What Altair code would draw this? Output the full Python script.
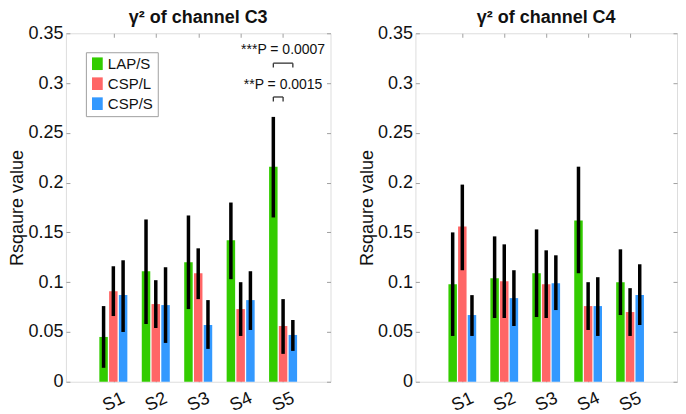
import json
import altair as alt
import pandas as pd

groups = ["S1", "S2", "S3", "S4", "S5"]
methods = ["LAP/S", "CSP/L", "CSP/S"]
colors = ["#33cc00", "#ff6666", "#3399ff"]
y_ticks = [0, 0.05, 0.1, 0.15, 0.2, 0.25, 0.3, 0.35]

# channel C3
c3_mean = {"LAP/S": [0.045, 0.111, 0.120, 0.142, 0.216],
           "CSP/L": [0.091, 0.078, 0.109, 0.073, 0.056],
           "CSP/S": [0.087, 0.077, 0.057, 0.082, 0.047]}
c3_lo = {"LAP/S": [0.014, 0.058, 0.073, 0.103, 0.165],
         "CSP/L": [0.066, 0.054, 0.083, 0.046, 0.028],
         "CSP/S": [0.050, 0.039, 0.033, 0.052, 0.031]}
c3_hi = {"LAP/S": [0.076, 0.163, 0.167, 0.180, 0.266],
         "CSP/L": [0.116, 0.102, 0.134, 0.100, 0.083],
         "CSP/S": [0.122, 0.115, 0.082, 0.111, 0.062]}

# channel C4
c4_mean = {"LAP/S": [0.098, 0.104, 0.109, 0.162, 0.100],
           "CSP/L": [0.156, 0.101, 0.098, 0.076, 0.070],
           "CSP/S": [0.067, 0.084, 0.099, 0.076, 0.087]}
c4_lo = {"LAP/S": [0.046, 0.064, 0.065, 0.109, 0.067],
         "CSP/L": [0.112, 0.064, 0.064, 0.052, 0.046],
         "CSP/S": [0.046, 0.056, 0.072, 0.046, 0.057]}
c4_hi = {"LAP/S": [0.150, 0.146, 0.153, 0.216, 0.133],
         "CSP/L": [0.198, 0.138, 0.132, 0.100, 0.094],
         "CSP/S": [0.087, 0.112, 0.127, 0.105, 0.118]}

# significance annotations (channel C3)
sig_group = [5, 5]
sig_from = [0, 0]
sig_to = [2, 1]
sig_level = [0.320, 0.286]
sig_text_level = [0.333, 0.298]
sig_labels = ["***P = 0.0007", "**P = 0.0015"]

FONT = "Liberation Sans"
BOX = "#a0a0a0"
OFF = 0.23
TICK = 4


def build_df(means, los, his):
    rows = []
    for mi, m in enumerate(methods):
        for gi, g in enumerate(groups):
            rows.append({"g": gi + 1, "m": mi, "method": m, "group": g,
                         "mean": means[m][gi], "lo": los[m][gi], "hi": his[m][gi]})
    return pd.DataFrame(rows)


def panel(means, los, his, title, width, show_legend, annotate):
    df = build_df(means, los, his)
    base = alt.Chart(df).transform_calculate(pos=f"datum.g + (datum.m - 1) * {OFF}")
    xs = alt.Scale(domain=[0, 6], nice=False, zero=False)
    ys = alt.Scale(domain=[0, 0.35], nice=False)
    vals = list(range(1, len(groups) + 1))
    lab = f"{json.dumps(groups)}[datum.value - 1]"

    legend = None
    if show_legend:
        legend = alt.Legend(orient="none", legendX=20, legendY=19, title=None,
                            symbolType="M-0.85,-1H0.85V1H-0.85Z", symbolSize=160,
                            symbolStrokeWidth=0, symbolOpacity=1,
                            labelFont=FONT, labelFontSize=15, labelColor="#111",
                            strokeColor=BOX, fillColor="white", padding=4,
                            rowPadding=4, labelOffset=3)

    bars = base.mark_bar(size=8.5, opacity=1).encode(
        x=alt.X("pos:Q", scale=xs, axis=alt.Axis(
            orient="bottom", values=vals, labelExpr=lab, ticks=False, domain=False,
            grid=False, title=None, labelAngle=-25, labelAlign="center",
            labelBaseline="middle", labelPadding=20, labelFont=FONT,
            labelFontSize=18, labelColor="#111")),
        y=alt.Y("mean:Q", scale=ys, axis=alt.Axis(
            orient="left", values=y_ticks, format="~g",
            ticks=False, domain=False, grid=False, title="Rsqaure value",
            titleFont=FONT, titleFontSize=18, titleFontWeight="normal",
            titleColor="#111", titlePadding=1, labelFont=FONT, labelFontSize=18,
            labelColor="#111", labelPadding=3)),
        color=alt.Color("method:N", scale=alt.Scale(domain=methods, range=colors),
                        legend=legend),
    )

    err = base.mark_rule(strokeWidth=3.5, color="black").encode(
        x=alt.X("pos:Q", scale=xs, axis=alt.Axis(
            orient="top", values=vals, labels=False, domain=False, grid=False,
            title=None, tickSize=TICK, offset=-TICK, tickColor=BOX)),
        y=alt.Y("lo:Q", scale=ys, axis=alt.Axis(
            orient="right", values=y_ticks, labels=False,
            domain=False, grid=False, title=None, tickSize=TICK, offset=-TICK,
            tickColor=BOX)),
        y2="hi:Q",
    )

    ticks = base.mark_point(opacity=0).encode(
        x=alt.X("pos:Q", scale=xs, axis=alt.Axis(
            orient="bottom", values=vals, labels=False, domain=False, grid=False,
            title=None, tickSize=TICK, offset=-TICK, tickColor=BOX)),
        y=alt.Y("mean:Q", scale=ys, axis=alt.Axis(
            orient="left", values=y_ticks, labels=False,
            domain=False, grid=False, title=None, tickSize=TICK, offset=-TICK,
            tickColor=BOX)),
    )

    layers = [bars, err, ticks]

    if annotate:
        ann = pd.DataFrame({"g": sig_group, "a": sig_from, "b": sig_to,
                            "y": sig_level, "ty": sig_text_level, "label": sig_labels})
        abase = alt.Chart(ann).transform_calculate(
            xa=f"datum.g + (datum.a - 1) * {OFF}",
            xb=f"datum.g + (datum.b - 1) * {OFF}",
            yd="datum.y - 0.0045")
        hline = abase.mark_rule(color="#333", strokeWidth=1.3).encode(
            x=alt.X("xa:Q", scale=xs, axis=None), x2="xb:Q",
            y=alt.Y("y:Q", scale=ys, axis=None))
        ends = abase.transform_fold(["xa", "xb"], as_=["k", "xe"]).mark_rule(
            color="#333", strokeWidth=1.3).encode(
            x=alt.X("xe:Q", scale=xs, axis=None),
            y=alt.Y("y:Q", scale=ys, axis=None), y2="yd:Q")
        txt = abase.mark_text(font=FONT, fontSize=14, color="#111",
                              baseline="middle").encode(
            x=alt.X("g:Q", scale=xs, axis=None),
            y=alt.Y("ty:Q", scale=ys, axis=None), text="label:N")
        layers += [hline, ends, txt]

    return alt.layer(*layers).resolve_axis(x="independent", y="independent").properties(
        width=width, height=349,
        title=alt.TitleParams(title, font=FONT, fontSize=18, fontWeight="bold",
                              color="#111", offset=-3, frame="group"))


left = panel(c3_mean, c3_lo, c3_hi, "γ² of channel C3", 265, True, True)
right = panel(c4_mean, c4_lo, c4_hi, "γ² of channel C4", 262, False, False)

chart = alt.hconcat(left, right, spacing=26).resolve_scale(color="independent").properties(
    padding={"left": 0, "top": 0, "right": 0, "bottom": 0}
).configure_view(stroke=BOX, strokeWidth=1).configure(background="white")

chart.save("out.html", embed_options={"renderer": "svg", "actions": False})
